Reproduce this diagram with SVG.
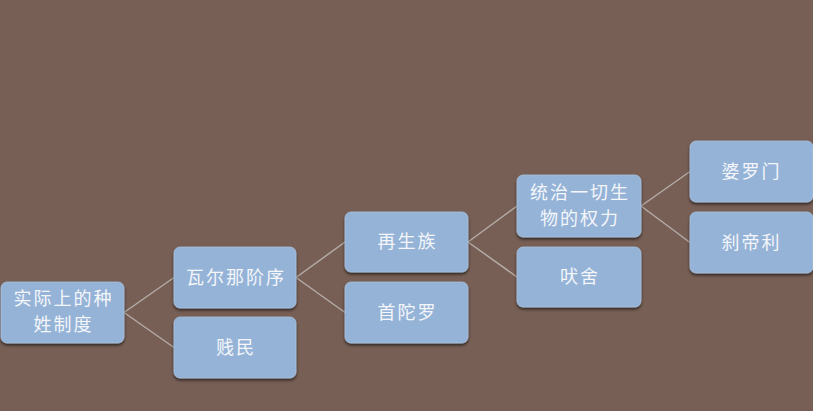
<svg xmlns="http://www.w3.org/2000/svg" width="813" height="411" viewBox="0 0 813 411">
<defs>
<filter id="sh" x="-10%" y="-10%" width="120%" height="130%">
<feGaussianBlur in="SourceAlpha" stdDeviation="1.5"/>
<feOffset dx="0" dy="2" result="b"/>
<feComponentTransfer><feFuncA type="linear" slope="0.6"/></feComponentTransfer>
<feMerge><feMergeNode/><feMergeNode in="SourceGraphic"/></feMerge>
</filter>
</defs>
<style>
.box{fill:#95b3d7;stroke:#a9c1dd;stroke-width:0.8;filter:url(#sh)}
.t{font-family:"Noto Sans CJK SC","Noto Sans",sans-serif;font-size:18px;fill:#f4f6fa;text-anchor:middle;letter-spacing:2px}
.c{stroke:#b4aaa6;stroke-width:1.5;fill:none}
</style>
<rect width="813" height="411" fill="#775f55"/>
<g id="connectors">
<path class="c" d="M124,312.5 L174,277.5 M124,312.5 L174,347.5"/>
<path class="c" d="M296,277.5 L345,242 M296,277.5 L345,312.5"/>
<path class="c" d="M468,242 L517,206 M468,242 L517,277"/>
<path class="c" d="M641,206 L690,171.5 M641,206 L690,242.5"/>
</g>
<g id="n0"><rect class="box" x="1" y="282" width="123" height="61" rx="6"/>
<text class="t" x="63.5" y="305">实际上的种</text><text class="t" x="63.5" y="331">姓制度</text></g>
<g id="n1"><rect class="box" x="174" y="247" width="122" height="61" rx="6"/>
<text class="t" x="236" y="284">瓦尔那阶序</text></g>
<g id="n2"><rect class="box" x="174" y="317" width="122" height="61" rx="6"/>
<text class="t" x="236" y="354">贱民</text></g>
<g id="n3"><rect class="box" x="345" y="212" width="123" height="60" rx="6"/>
<text class="t" x="407.5" y="248">再生族</text></g>
<g id="n4"><rect class="box" x="345" y="282" width="123" height="61" rx="6"/>
<text class="t" x="407.5" y="319">首陀罗</text></g>
<g id="n5"><rect class="box" x="517" y="175" width="124" height="62" rx="6"/>
<text class="t" x="580" y="199">统治一切生</text><text class="t" x="580" y="225">物的权力</text></g>
<g id="n6"><rect class="box" x="517" y="247" width="124" height="60" rx="6"/>
<text class="t" x="580" y="283">吠舍</text></g>
<g id="n7"><rect class="box" x="690" y="141" width="123" height="61" rx="6"/>
<text class="t" x="751.5" y="178">婆罗门</text></g>
<g id="n8"><rect class="box" x="690" y="212" width="123" height="61" rx="6"/>
<text class="t" x="751.5" y="249">刹帝利</text></g>
</svg>
